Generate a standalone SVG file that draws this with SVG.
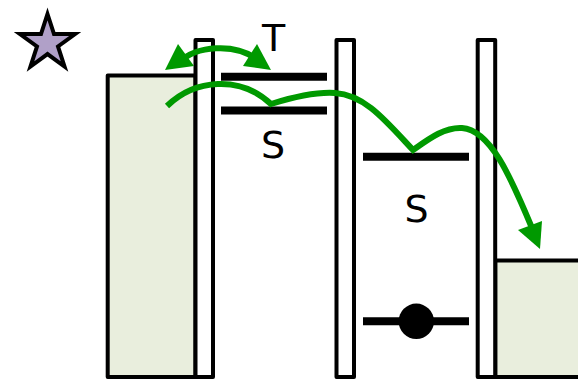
<svg xmlns="http://www.w3.org/2000/svg" width="578" height="381" viewBox="0 0 578 381">
<defs><style>
.b{fill:#fff;stroke:#000;stroke-width:4;stroke-linejoin:round}
.e{fill:#e9eedd;stroke:#000;stroke-width:4;stroke-linejoin:round}
.l{fill:none;stroke:#000;stroke-width:8}
.g{fill:none;stroke:#009900;stroke-width:6}
.a{fill:#009900}
.t{font-family:"DejaVu Sans",sans-serif;font-size:38px;fill:#000;text-anchor:middle}
</style></defs>
<g id="star"><path d="M47.500 14L54 34L75.100 34L58 46.400L64.500 66.500L47.500 54.100L30.500 66.500L37 46.400L19.900 34L41 34Z" fill="#b0a0c8" stroke="#000" stroke-width="4"/></g>
<g id="left-lead"><rect class="e" x="107.700" y="75.500" width="87.800" height="301.500"/></g>
<g id="right-lead"><path class="e" d="M580 260.500H495.300V377H580"/></g>
<g id="barrier1"><rect class="b" x="195.500" y="40" width="17.500" height="337"/></g>
<g id="barrier2"><rect class="b" x="336.500" y="40" width="17.500" height="337"/></g>
<g id="barrier3"><rect class="b" x="477.700" y="40" width="17.500" height="337"/></g>
<g id="level-t"><path class="l" d="M221 76.700H327"/><text class="t" x="273.500" y="51">T</text></g>
<g id="level-s1"><path class="l" d="M221 110.500H327"/><text class="t" x="273" y="158">S</text></g>
<g id="level-s2"><path class="l" d="M363 156.700H469"/><text class="t" x="416.500" y="222">S</text></g>
<g id="level-0"><path class="l" d="M363 321.300H469"/><circle cx="416.300" cy="321.300" r="17.700"/></g>
<g id="connectors">
<path class="g" d="M180 62C195 46 235 42 258 60"/>
<path class="a" d="M165 70L178 44L194 66Z"/>
<path class="a" d="M271 70L243 66L257 44Z"/>
<path class="g" d="M167 106C195 79 240 75 271 104C300 95 320 92 335 93C365 95 385 120 413 150C430 138 445 127 462 128C490 130 510 175 532 228"/>
<path class="a" d="M540 249L518 230L542 221Z"/>
</g>
</svg>
